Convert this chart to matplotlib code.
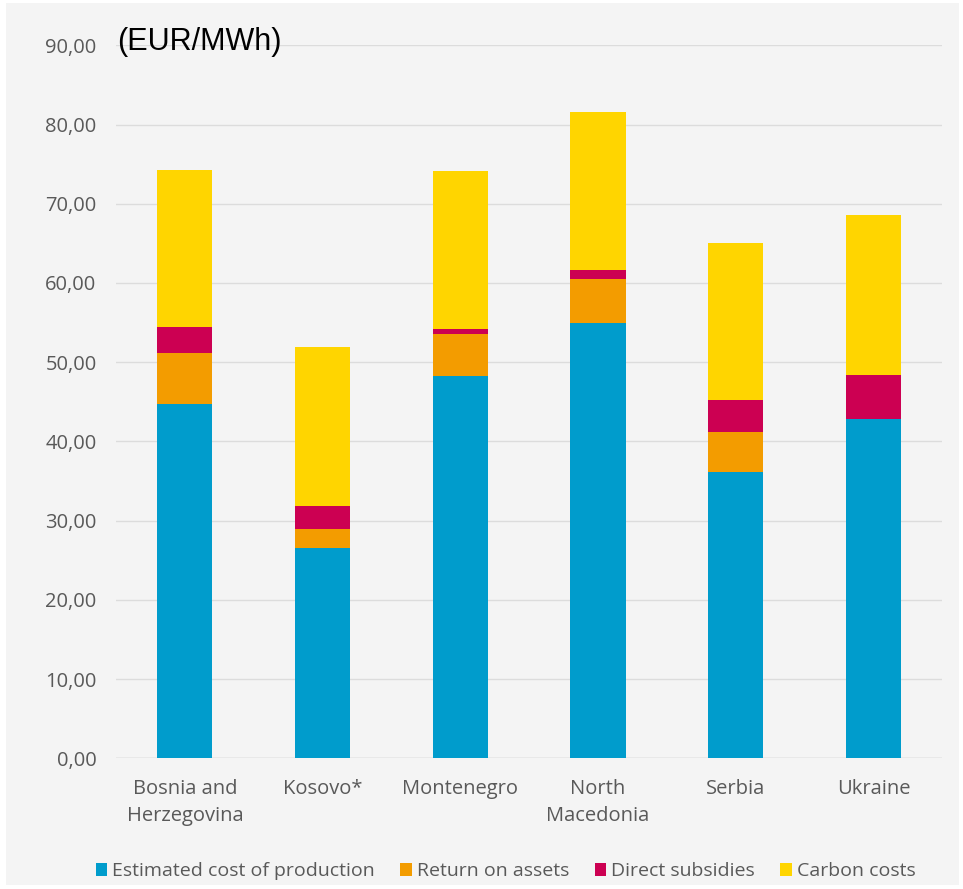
import numpy as np
import matplotlib.pyplot as plt
from matplotlib.patches import Rectangle

countries = ["Bosnia and\nHerzegovina", "Kosovo*", "Montenegro", "North\nMacedonia", "Serbia", "Ukraine"]
production = [44.7, 26.6, 48.2, 55.0, 36.2, 42.8]
return_assets = [6.5, 2.3, 5.3, 5.5, 5.0, 0.0]
subsidies = [3.3, 3.0, 0.7, 1.2, 4.0, 5.6]
carbon = [19.8, 20.0, 19.9, 19.9, 19.8, 20.2]

series = {
    "Estimated cost of production": (production, "#009ccc"),
    "Return on assets": (return_assets, "#f39c00"),
    "Direct subsidies": (subsidies, "#cc0052"),
    "Carbon costs": (carbon, "#ffd500"),
}

bg = "#f4f4f4"
txt = "#595959"
plt.rcParams["font.family"] = ["Open Sans", "DejaVu Sans"]

fig = plt.figure(figsize=(9.63, 8.89), dpi=100, facecolor="white")
fig.patches.append(Rectangle((0.006, 0.004), 0.99, 0.993, transform=fig.transFigure,
                             facecolor=bg, edgecolor="none", zorder=-10))
ax = fig.add_axes([0.1205, 0.147, 0.858, 0.802])
ax.set_facecolor(bg)

x = np.arange(len(countries))
bottom = np.zeros(len(countries))
for name, (vals, col) in series.items():
    ax.bar(x, vals, 0.4, bottom=bottom, color=col, label=name, zorder=3)
    bottom += np.array(vals)

ax.set_xlim(-0.5, 5.5)
ax.set_ylim(0, 90)
ax.set_yticks(np.arange(0, 91, 10))
ax.set_yticklabels([f"{v},00" for v in range(0, 91, 10)], color=txt, fontsize=14.5)
ax.set_xticks(x)
ax.set_xticklabels(countries, color=txt, fontsize=14.5, linespacing=1.45)
ax.tick_params(axis="x", length=0, pad=15)
ax.tick_params(axis="y", length=0, pad=14)
ax.grid(axis="y", color="#dcdcdc", linewidth=1, zorder=0)
for s in ax.spines.values():
    s.set_visible(False)
ax.axhline(0, color="#d0d0d0", linewidth=1, zorder=2)

fig.text(0.122, 0.953, "(EUR/MWh)", fontsize=22, color="black",
         family="Liberation Sans", va="center", ha="left")

leg = fig.legend(loc="center", bbox_to_anchor=(0.525, 0.02), ncol=4, frameon=False,
                 fontsize=14, handlelength=0.6, handleheight=0.6, handletextpad=0.25,
                 columnspacing=1.3)
for t in leg.get_texts():
    t.set_color(txt)

fig.savefig("out.png", dpi=100, facecolor=fig.get_facecolor())
